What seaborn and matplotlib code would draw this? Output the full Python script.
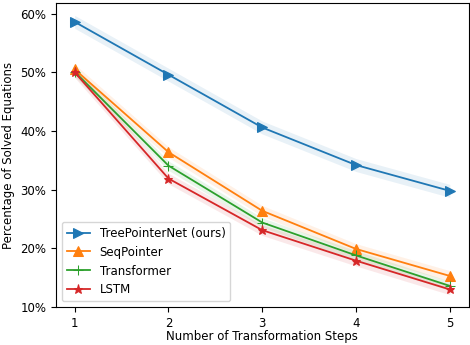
import pandas as pd
import seaborn as sns
import matplotlib.pyplot as plt
from matplotlib.ticker import PercentFormatter

steps = [1, 2, 3, 4, 5]
models = ['TreePointerNet (ours)', 'SeqPointer', 'Transformer', 'LSTM']
tree = [58.6, 49.6, 40.6, 34.2, 29.8]
seqptr = [50.5, 36.4, 26.4, 19.9, 15.3]
transformer = [50.1, 34.1, 24.4, 18.8, 13.6]
lstm = [50.0, 31.9, 23.1, 17.9, 13.0]
band = [1.1, 0.9, 0.8, 0.9]  # half-width of shaded region per model

colors = ['#1f77b4', '#ff7f0e', '#2ca02c', '#d62728']
markers = ['>', '^', '+', '*']

plt.rcParams['font.size'] = 8.5

rows = []
for m, vals in zip(models, [tree, seqptr, transformer, lstm]):
    for s, v in zip(steps, vals):
        rows.append({'step': s, 'value': v, 'model': m})
data = pd.DataFrame(rows)

fig, ax = plt.subplots(figsize=(4.7, 3.45), dpi=100)
for m, c, mk, b in zip(models, colors, markers, band):
    d = data[data['model'] == m]
    sns.lineplot(x='step', y='value', data=d, color=c, marker=mk, markersize=6.5,
                 markeredgecolor=c, linewidth=1.3, label=m, ax=ax)
    ax.fill_between(d['step'], d['value'] - b, d['value'] + b, color=c, alpha=0.1, lw=0)

ax.set_xticks(steps)
ax.set_xlim(0.8, 5.2)
ax.set_ylim(10, 61.8)
ax.yaxis.set_major_formatter(PercentFormatter(100, decimals=0))
ax.set_xlabel('Number of Transformation Steps', labelpad=0.5)
ax.set_ylabel('Percentage of Solved Equations')
ax.legend(loc='lower left')
fig.subplots_adjust(left=0.119, right=0.997, top=0.991, bottom=0.11)
fig.savefig('out.png', dpi=100)
